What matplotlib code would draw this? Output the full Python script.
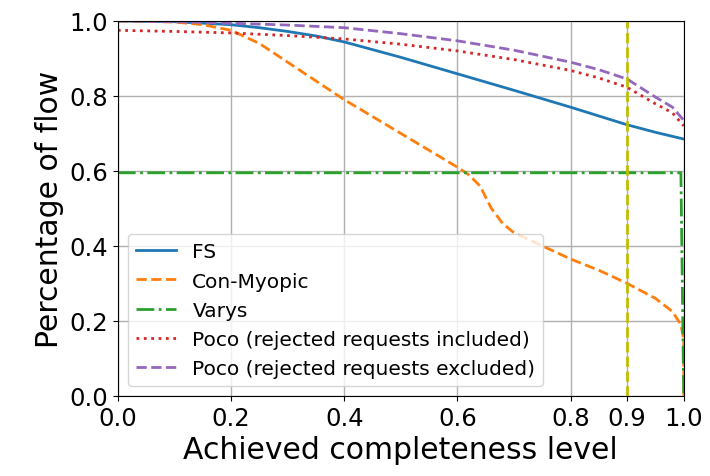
import matplotlib
matplotlib.use("Agg")
import matplotlib.pyplot as plt
import numpy as np

# achieved completeness level (x) vs percentage of flow (y)
fs_x = [0.0, 0.1, 0.2, 0.25, 0.3, 0.35, 0.4, 0.5, 0.6, 0.7, 0.8, 0.9, 0.95, 1.0]
fs_y = [1.0, 0.998, 0.99, 0.982, 0.972, 0.96, 0.944, 0.903, 0.859, 0.815, 0.77, 0.723, 0.703, 0.685]

myopic_x = [0.0, 0.1, 0.15, 0.2, 0.25, 0.3, 0.35, 0.4, 0.45, 0.5, 0.55, 0.6, 0.62,
            0.64, 0.66, 0.68, 0.7, 0.75, 0.8, 0.85, 0.9, 0.95, 0.98, 0.995, 1.0, 1.0]
myopic_y = [1.0, 0.997, 0.99, 0.975, 0.94, 0.89, 0.84, 0.79, 0.745, 0.7, 0.655, 0.61, 0.59,
            0.56, 0.5, 0.46, 0.435, 0.4, 0.365, 0.335, 0.3, 0.26, 0.225, 0.19, 0.15, 0.0]

varys_x = [0.0, 0.995, 1.0]
varys_y = [0.595, 0.595, 0.0]

poco_in_x = [0.0, 0.1, 0.2, 0.3, 0.4, 0.5, 0.6, 0.7, 0.8, 0.85, 0.9, 0.95, 0.98, 1.0]
poco_in_y = [0.975, 0.972, 0.968, 0.961, 0.952, 0.938, 0.92, 0.897, 0.868, 0.848, 0.823, 0.779, 0.755, 0.72]

poco_ex_x = [0.0, 0.1, 0.2, 0.3, 0.4, 0.5, 0.6, 0.7, 0.8, 0.85, 0.9, 0.95, 0.98, 1.0]
poco_ex_y = [1.0, 0.998, 0.994, 0.989, 0.982, 0.966, 0.947, 0.922, 0.89, 0.87, 0.845, 0.797, 0.77, 0.735]

x_ticks = [0.0, 0.2, 0.4, 0.6, 0.8, 0.9, 1.0]
y_ticks = [0.0, 0.2, 0.4, 0.6, 0.8, 1.0]
target = 0.9

fig = plt.figure(figsize=(7.1, 4.77), dpi=100)
ax = fig.add_axes([0.166, 0.168, 0.797, 0.786])

ax.plot(fs_x, fs_y, '-', color='tab:blue', linewidth=2, label='FS')
ax.plot(myopic_x, myopic_y, '--', color='tab:orange', linewidth=2, label='Con-Myopic')
ax.plot(varys_x, varys_y, '-.', color='tab:green', linewidth=2, label='Varys')
ax.plot(poco_in_x, poco_in_y, ':', color='tab:red', linewidth=2,
        label='Poco (rejected requests included)')
ax.plot(poco_ex_x, poco_ex_y, '--', color='tab:purple', linewidth=2,
        label='Poco (rejected requests excluded)')
ax.axvline(target, color='y', linestyle='--', linewidth=2)

ax.set_xlim(0, 1)
ax.set_ylim(0, 1)
ax.set_xticks(x_ticks)
ax.set_yticks(y_ticks)
ax.tick_params(labelsize=17.5)
ax.grid(True, color='#b0b0b0', linewidth=1)
ax.set_xlabel('Achieved completeness level', fontsize=21.5)
ax.set_ylabel('Percentage of flow', fontsize=21.5)
ax.legend(loc='lower left', fontsize=14.5, bbox_to_anchor=(0.0, 0.0))

plt.savefig('out.png', dpi=100)
